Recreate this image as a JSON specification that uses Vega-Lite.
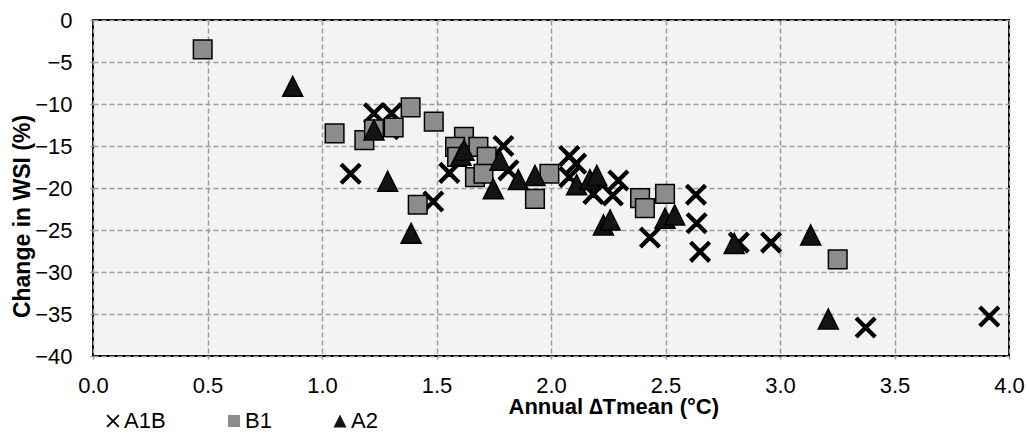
{
  "$schema": "https://vega.github.io/schema/vega-lite/v6.json",
  "width": 916,
  "height": 336,
  "autosize": {"type": "none"},
  "padding": {"left": 93, "top": 20, "right": 20, "bottom": 83},
  "background": "white",
  "config": {
    "font": "Liberation Sans",
    "view": {"fill": "#f3f3f3", "stroke": "black", "strokeWidth": 2},
    "axis": {
      "domain": false,
      "gridColor": "#9a9a9a",
      "gridDash": [5, 3],
      "gridWidth": 1.5,
      "ticks": true,
      "tickSize": 3,
      "tickColor": "#9a9a9a",
      "tickWidth": 1.5,
      "labelFont": "Liberation Sans",
      "labelFontSize": 22,
      "labelColor": "black",
      "titleFont": "Liberation Sans",
      "titleFontSize": 23,
      "titleFontWeight": "bold",
      "titleColor": "black"
    },
    "legend": {
      "orient": "none",
      "direction": "horizontal",
      "legendX": 9,
      "legendY": 390,
      "padding": 0,
      "symbolSize": 170,
      "symbolStrokeColor": "black",
      "symbolStrokeWidth": 2,
      "labelFont": "Liberation Sans",
      "labelFontSize": 22,
      "labelColor": "black",
      "labelOffset": 0,
      "columnPadding": 57
    }
  },
  "data": {
    "values": [
      {"t": 1.125, "wsi": -18.3, "s": "A1B"},
      {"t": 1.227, "wsi": -11.1, "s": "A1B"},
      {"t": 1.304, "wsi": -11.1, "s": "A1B"},
      {"t": 1.29, "wsi": -13.0, "s": "A1B"},
      {"t": 1.486, "wsi": -21.6, "s": "A1B"},
      {"t": 1.556, "wsi": -18.2, "s": "A1B"},
      {"t": 1.792, "wsi": -15.0, "s": "A1B"},
      {"t": 1.814, "wsi": -17.9, "s": "A1B"},
      {"t": 2.08, "wsi": -16.2, "s": "A1B"},
      {"t": 2.11, "wsi": -17.1, "s": "A1B"},
      {"t": 2.08, "wsi": -18.7, "s": "A1B"},
      {"t": 2.185, "wsi": -20.7, "s": "A1B"},
      {"t": 2.27, "wsi": -20.9, "s": "A1B"},
      {"t": 2.294, "wsi": -19.1, "s": "A1B"},
      {"t": 2.432, "wsi": -25.9, "s": "A1B"},
      {"t": 2.633, "wsi": -20.8, "s": "A1B"},
      {"t": 2.636, "wsi": -24.2, "s": "A1B"},
      {"t": 2.651, "wsi": -27.6, "s": "A1B"},
      {"t": 2.82, "wsi": -26.5, "s": "A1B"},
      {"t": 2.961, "wsi": -26.5, "s": "A1B"},
      {"t": 3.374, "wsi": -36.6, "s": "A1B"},
      {"t": 3.914, "wsi": -35.3, "s": "A1B"},
      {"t": 0.479, "wsi": -3.5, "s": "B1"},
      {"t": 1.055, "wsi": -13.5, "s": "B1"},
      {"t": 1.185, "wsi": -14.3, "s": "B1"},
      {"t": 1.227, "wsi": -13.0, "s": "B1"},
      {"t": 1.313, "wsi": -12.8, "s": "B1"},
      {"t": 1.387, "wsi": -10.4, "s": "B1"},
      {"t": 1.488, "wsi": -12.1, "s": "B1"},
      {"t": 1.418, "wsi": -22.0, "s": "B1"},
      {"t": 1.62, "wsi": -13.9, "s": "B1"},
      {"t": 1.581, "wsi": -15.1, "s": "B1"},
      {"t": 1.59, "wsi": -16.3, "s": "B1"},
      {"t": 1.683, "wsi": -15.1, "s": "B1"},
      {"t": 1.719, "wsi": -16.3, "s": "B1"},
      {"t": 1.668, "wsi": -18.7, "s": "B1"},
      {"t": 1.705, "wsi": -18.3, "s": "B1"},
      {"t": 1.993, "wsi": -18.3, "s": "B1"},
      {"t": 1.93, "wsi": -21.3, "s": "B1"},
      {"t": 2.389, "wsi": -21.2, "s": "B1"},
      {"t": 2.41, "wsi": -22.4, "s": "B1"},
      {"t": 2.498, "wsi": -20.7, "s": "B1"},
      {"t": 3.252, "wsi": -28.5, "s": "B1"},
      {"t": 0.872, "wsi": -7.9, "s": "A2"},
      {"t": 1.227, "wsi": -13.1, "s": "A2"},
      {"t": 1.287, "wsi": -19.2, "s": "A2"},
      {"t": 1.389, "wsi": -25.4, "s": "A2"},
      {"t": 1.607, "wsi": -16.1, "s": "A2"},
      {"t": 1.62, "wsi": -15.5, "s": "A2"},
      {"t": 1.777, "wsi": -16.7, "s": "A2"},
      {"t": 1.748, "wsi": -20.1, "s": "A2"},
      {"t": 1.857, "wsi": -19.0, "s": "A2"},
      {"t": 1.93, "wsi": -18.5, "s": "A2"},
      {"t": 2.112, "wsi": -19.6, "s": "A2"},
      {"t": 2.17, "wsi": -19.0, "s": "A2"},
      {"t": 2.2, "wsi": -18.5, "s": "A2"},
      {"t": 2.229, "wsi": -24.4, "s": "A2"},
      {"t": 2.258, "wsi": -23.8, "s": "A2"},
      {"t": 2.498, "wsi": -23.6, "s": "A2"},
      {"t": 2.54, "wsi": -23.2, "s": "A2"},
      {"t": 2.8, "wsi": -26.6, "s": "A2"},
      {"t": 3.134, "wsi": -25.6, "s": "A2"},
      {"t": 3.211, "wsi": -35.6, "s": "A2"}
    ]
  },
  "mark": {"type": "point", "filled": true, "size": 400, "opacity": 1, "stroke": "black", "strokeWidth": 1.5},
  "encoding": {
    "x": {
      "field": "t", "type": "quantitative",
      "scale": {"domain": [0, 4], "nice": false, "zero": false},
      "axis": {
        "values": [0, 0.5, 1, 1.5, 2, 2.5, 3, 3.5, 4],
        "format": ".1f",
        "labelPadding": 16,
        "labelFlush": false,
        "title": "Annual ∆Tmean (°C)",
        "titleFontSize": 22,
        "titleAnchor": "start",
        "titleX": 415,
        "titleY": 57,
        "titleBaseline": "alphabetic"
      }
    },
    "y": {
      "field": "wsi", "type": "quantitative",
      "scale": {"domain": [-40, 0], "nice": false},
      "axis": {
        "values": [-40, -35, -30, -25, -20, -15, -10, -5, 0],
        "labelPadding": 18,
        "labelFlush": false,
        "title": "Change in WSI (%)",
        "titleAngle": -90,
        "titleAlign": "center",
        "titleBaseline": "alphabetic",
        "titleX": -64,
        "titleY": 196
      }
    },
    "shape": {
      "field": "s", "type": "nominal",
      "scale": {
        "domain": ["A1B", "B1", "A2"],
        "range": [
          "M-0.8,-1L0,-0.2L0.8,-1L1,-0.8L0.2,0L1,0.8L0.8,1L0,0.2L-0.8,1L-1,0.8L-0.2,0L-1,-0.8Z",
          "M-0.93,-0.93H0.93V0.93H-0.93Z",
          "M0,-1L1,1L-1,1Z"
        ]
      },
      "legend": {
        "title": null,
        "encode": {"symbols": {"update": {"stroke": {"value": "black"}, "strokeWidth": {"value": 1.8}, "strokeOpacity": {"value": 1}, "opacity": {"value": 1}}}}
      }
    },
    "fill": {
      "field": "s", "type": "nominal",
      "scale": {"domain": ["A1B", "B1", "A2"], "range": ["black", "#8c8c8c", "#141414"]},
      "legend": {
        "title": null,
        "encode": {"symbols": {"update": {"stroke": {"value": "black"}, "strokeWidth": {"value": 1.8}, "strokeOpacity": {"value": 1}, "opacity": {"value": 1}}}}
      }
    }
  }
}
